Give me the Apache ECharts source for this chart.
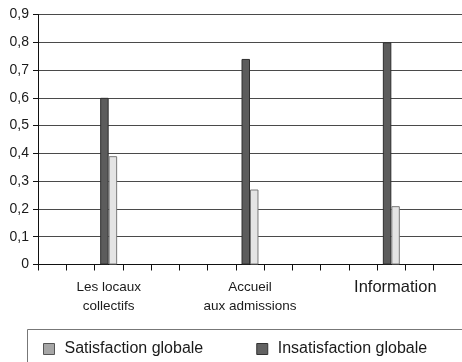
<!DOCTYPE html>
<html>
<head>
<meta charset="utf-8">
<script src="https://cdn.jsdelivr.net/npm/echarts@6/dist/echarts.min.js"></script>
<style>
  html, body { margin: 0; padding: 0; background: #fff; }
  #chart { width: 462px; height: 362px; }
</style>
</head>
<body>
<div id="chart"></div>
<script>
// Survey topics and their satisfaction / dissatisfaction rates
const topics = ['Les locaux\ncollectifs', 'Accueil\naux admissions', 'Information'];
const satisfaction = [0.39, 0.27, 0.21];
const insatisfaction = [0.60, 0.74, 0.80];
const seriesNames = ['Satisfaction globale', 'Insatisfaction globale'];
const yTicks = [0, 0.1, 0.2, 0.3, 0.4, 0.5, 0.6, 0.7, 0.8, 0.9];

// The category axis has 15 slots; each topic sits in its own slot with empty slots between.
const SLOT_COUNT = 15;
const topicSlots = [2, 7, 12];
const categories = new Array(SLOT_COUNT).fill('');
const satData = new Array(SLOT_COUNT).fill(null);
const insatData = new Array(SLOT_COUNT).fill(null);
topicSlots.forEach((s, i) => {
  categories[s] = topics[i];
  satData[s] = satisfaction[i];
  insatData[s] = insatisfaction[i];
});

const baseFont = 'Liberation Sans, Arial, sans-serif';

const chart = echarts.init(document.getElementById('chart'), null, { renderer: 'canvas' });
chart.setOption({
  animation: false,
  backgroundColor: '#fff',
  grid: { left: 38, right: 0, top: 14.5, bottom: 97.5, containLabel: false },
  xAxis: {
    type: 'category',
    data: categories,
    boundaryGap: true,
    axisLine: { show: true, lineStyle: { color: '#111', width: 1 } },
    axisTick: { show: true, interval: 0, length: 6, lineStyle: { color: '#111' } },
    axisLabel: {
      interval: 0,
      margin: 13,
      color: '#1a1a1a',
      fontFamily: baseFont,
      fontSize: 13.5,
      lineHeight: 19,
      formatter: v => v === 'Information' ? '{big|' + v + '}' : v,
      rich: {
        big: { fontFamily: baseFont, fontSize: 16.5, lineHeight: 19, color: '#1a1a1a', padding: [0, 0, 0, 8] }
      }
    },
    splitLine: { show: false }
  },
  yAxis: {
    type: 'value',
    min: yTicks[0],
    max: yTicks[yTicks.length - 1],
    interval: 0.1,
    axisLine: { show: true, lineStyle: { color: '#111', width: 1 } },
    axisTick: { show: true, length: 5, lineStyle: { color: '#111' } },
    axisLabel: {
      margin: 9,
      color: '#1a1a1a',
      fontFamily: baseFont,
      fontSize: 14,
      formatter: v => v === 0 ? '0' : v.toFixed(1).replace('.', ',')
    },
    splitLine: { show: true, lineStyle: { color: '#4a4a4a', width: 1 } }
  },
  legend: {
    left: 38,
    top: 336,
    width: 440,
    icon: 'rect',
    itemWidth: 11,
    itemHeight: 11,
    itemGap: 53,
    selectedMode: false,
    textStyle: {
      fontFamily: baseFont,
      fontSize: 16,
      lineHeight: 14,
      color: '#1a1a1a',
      padding: [0, 0, 0, 5]
    },
    data: [
      { name: seriesNames[0], itemStyle: { color: '#a6a6a6', borderColor: '#555', borderWidth: 1 } },
      { name: seriesNames[1], itemStyle: { color: '#626262', borderColor: '#333', borderWidth: 1 } }
    ]
  },
  graphic: [{
    type: 'rect',
    shape: { x: 27.5, y: 329.5, width: 460, height: 60 },
    style: { fill: 'none', stroke: '#777', lineWidth: 1 },
    silent: true
  }],
  series: [
    {
      name: seriesNames[1],
      type: 'bar',
      data: insatData,
      barWidth: '30%',
      barGap: '0%',
      itemStyle: { color: '#5c5c5c', borderColor: '#2e2e2e', borderWidth: 1 }
    },
    {
      name: seriesNames[0],
      type: 'bar',
      data: satData,
      barWidth: '30%',
      barGap: '0%',
      itemStyle: { color: '#e4e4e4', borderColor: '#7a7a7a', borderWidth: 1 }
    }
  ]
});
</script>
</body>
</html>
